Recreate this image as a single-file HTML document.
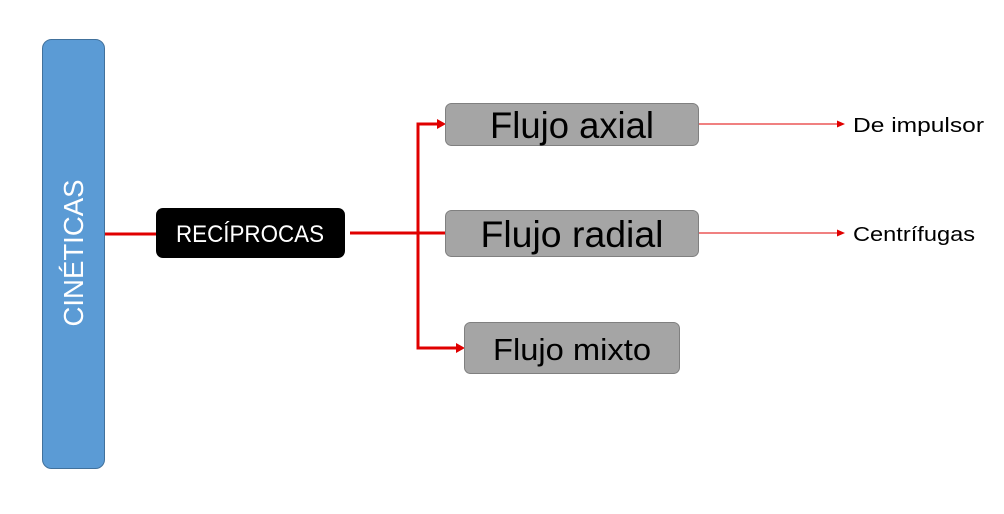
<!DOCTYPE html>
<html><head><meta charset="utf-8"><style>
html,body{margin:0;padding:0;background:#fff;width:1004px;height:514px;overflow:hidden}
svg text{font-family:"Liberation Sans",sans-serif}
</style></head><body>
<svg width="1004" height="514" viewBox="0 0 1004 514" xmlns="http://www.w3.org/2000/svg">
<rect x="42.5" y="39.5" width="62" height="429" rx="9" fill="#5b9bd5" stroke="#41719c" stroke-width="1"/>
<text x="0" y="0" transform="translate(83,253) rotate(-90)" text-anchor="middle" font-size="28" fill="#fff" textLength="147" lengthAdjust="spacingAndGlyphs">CINÉTICAS</text>
<line x1="105" y1="234" x2="156" y2="234" stroke="#e00000" stroke-width="3"/>
<rect x="156" y="208" width="189" height="50" rx="7" fill="#000"/>
<text x="250" y="242" text-anchor="middle" font-size="24" fill="#fff" textLength="148" lengthAdjust="spacingAndGlyphs">RECÍPROCAS</text>
<line x1="350" y1="233" x2="445" y2="233" stroke="#e00000" stroke-width="3"/>
<polyline points="440,124 418,124 418,348 458,348" fill="none" stroke="#e00000" stroke-width="3"/>
<polygon points="437,119 446,124 437,129" fill="#e00000"/>
<polygon points="456,343 465,348 456,353" fill="#e00000"/>
<rect x="445.5" y="103.5" width="253" height="42" rx="6" fill="#a5a5a5" stroke="#808080"/>
<text x="572" y="138" text-anchor="middle" font-size="37" fill="#000" textLength="164" lengthAdjust="spacingAndGlyphs">Flujo axial</text>
<rect x="445.5" y="210.5" width="253" height="46" rx="6" fill="#a5a5a5" stroke="#808080"/>
<text x="572" y="247" text-anchor="middle" font-size="37" fill="#000" textLength="183" lengthAdjust="spacingAndGlyphs">Flujo radial</text>
<rect x="464.5" y="322.5" width="215" height="51" rx="6" fill="#a5a5a5" stroke="#808080"/>
<text x="572" y="360" text-anchor="middle" font-size="31" fill="#000" textLength="158" lengthAdjust="spacingAndGlyphs">Flujo mixto</text>
<line x1="699" y1="124" x2="838" y2="124" stroke="#e00000" stroke-width="1"/>
<polygon points="837,120.5 845,124 837,127.5" fill="#e00000"/>
<line x1="699" y1="233" x2="838" y2="233" stroke="#e00000" stroke-width="1"/>
<polygon points="837,229.5 845,233 837,236.5" fill="#e00000"/>
<text x="853" y="132" font-size="20" fill="#000" textLength="131" lengthAdjust="spacingAndGlyphs">De impulsor</text>
<text x="853" y="241" font-size="20" fill="#000" textLength="122" lengthAdjust="spacingAndGlyphs">Centrífugas</text>
</svg>
</body></html>
